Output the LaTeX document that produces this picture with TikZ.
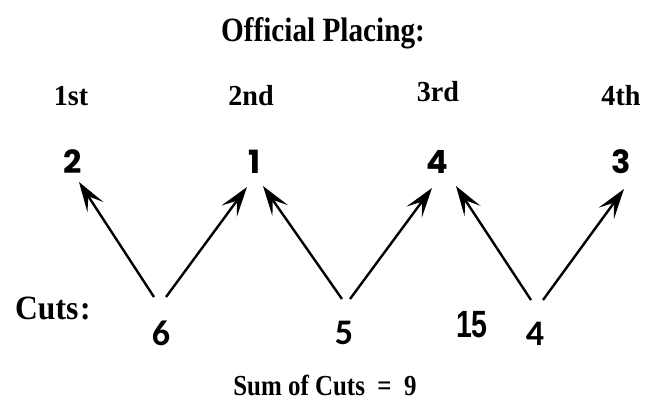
\documentclass[tikz,border=0pt]{standalone}
\usepackage{fontspec}
\setmainfont{Liberation Serif}
\newfontfamily\digfont{Poppins}
\newfontfamily\cutfont{Carlito}
\newfontfamily\narrowfont{Liberation Sans}
\usetikzlibrary{arrows.meta}
\begin{document}
\begin{tikzpicture}[x=1pt,y=-1pt,
  serifbold/.style={font=\bfseries\fontsize{#1}{#1}\selectfont, inner sep=0pt, anchor=base, xscale=0.86},
  placelabel/.style={font=\bfseries\fontsize{29}{29}\selectfont, inner sep=0pt, anchor=base, xscale=0.97},
  placedigit/.style={font=\digfont\bfseries\fontsize{32}{32}\selectfont, inner sep=0pt, anchor=base},
  cutdigit/.style={font=\cutfont\bfseries\fontsize{36}{36}\selectfont, inner sep=0pt, anchor=base},
  narrowdigit/.style={font=\narrowfont\bfseries\fontsize{38}{38}\selectfont, inner sep=0pt, anchor=base, xscale=0.75},
  cutarrow/.style={line width=2.4pt, -{Stealth[length=30pt, width=19pt, inset=13pt]}}
]
\useasboundingbox (0,0) rectangle (646,400);
\fill[white] (0,0) rectangle (646,400);

\node[serifbold=34] (title) at (323,41) {Official Placing:};
\node[placelabel] (p1) at (71,105) {1st};
\node[placelabel] (p2) at (251,105) {2nd};
\node[placelabel] (p3) at (438,101) {3rd};
\node[placelabel] (p4) at (621,105) {4th};

\node[placedigit] (d1) at (73,173) {2};
\node[placedigit] (d2) at (255,173) {1};
\node[placedigit] (d3) at (437,173) {4};
\node[placedigit] (d4) at (621,173) {3};

\node[serifbold=34, xscale=1.08, anchor=base west] (cuts) at (15,319) {Cuts\kern2pt:};
\node[cutdigit] (c1) at (161,345) {6};
\node[cutdigit] (c2) at (344,344) {5};
\node[narrowdigit] (c15) at (472,337) {15};
\node[cutdigit] (c3) at (535,345) {4};

\node[serifbold=29] (sum) at (325,395) {Sum of Cuts\ \ =\ \ 9};

\coordinate (a1) at (154,297); \coordinate (t1) at (79,182);
\coordinate (a2) at (166,297); \coordinate (t2) at (247,187);
\coordinate (a3) at (342,299); \coordinate (t3) at (263,186);
\coordinate (a4) at (350,299); \coordinate (t4) at (432,188);
\coordinate (a5) at (531,300); \coordinate (t5) at (456,186);
\coordinate (a6) at (543,300); \coordinate (t6) at (624,189);

\draw[cutarrow] (a1) -- (t1);
\draw[cutarrow] (a2) -- (t2);
\draw[cutarrow] (a3) -- (t3);
\draw[cutarrow] (a4) -- (t4);
\draw[cutarrow] (a5) -- (t5);
\draw[cutarrow] (a6) -- (t6);
\end{tikzpicture}
\end{document}
